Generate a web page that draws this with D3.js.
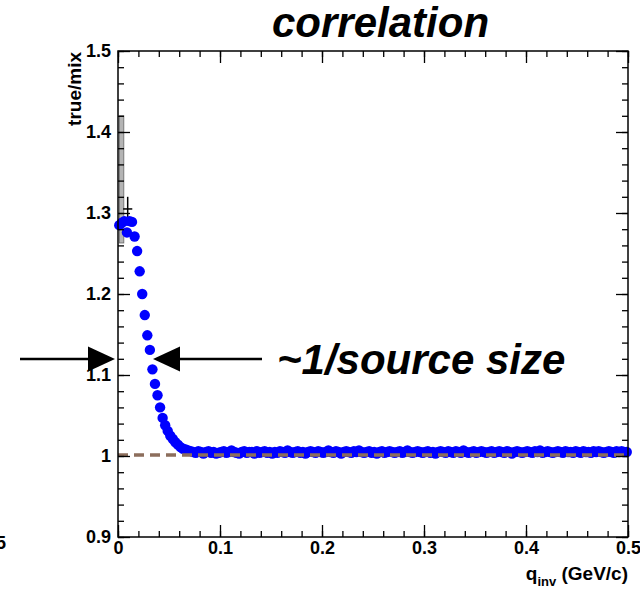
<!DOCTYPE html>
<html>
<head>
<meta charset="utf-8">
<script src="https://cdn.jsdelivr.net/npm/d3@7"></script>
<style>
body { margin: 0; background: #fff; }
svg { display: block; }
text { font-family: "Liberation Sans", Arial, sans-serif; font-weight: bold; }
</style>
</head>
<body>
<svg id="chart" width="640" height="590"></svg>
<script>
// correlation function true/mix vs q_inv, 200 bins of 0.0025 GeV/c
var binWidth = 0.0025;
var ratio = [
    1.285, 1.288, 1.290, 1.276, 1.290, 1.289, 1.271, 1.253, 1.228, 1.200,
    1.174, 1.149, 1.131, 1.107, 1.089, 1.075, 1.060, 1.047, 1.038, 1.031,
    1.025, 1.021, 1.017, 1.014, 1.011, 1.009, 1.008, 1.007, 1.006, 1.005,
    1.004, 1.006, 1.005, 1.003, 1.005, 1.006, 1.004, 1.005, 1.003, 1.004,
    1.005, 1.006, 1.004, 1.005, 1.007, 1.005, 1.004, 1.003, 1.005, 1.006,
    1.004, 1.005, 1.005, 1.003, 1.006, 1.004, 1.005, 1.006, 1.004, 1.005,
    1.003, 1.005, 1.004, 1.006, 1.005, 1.004, 1.007, 1.005, 1.004, 1.005,
    1.006, 1.004, 1.005, 1.003, 1.005, 1.006, 1.005, 1.004, 1.006, 1.005,
    1.004, 1.005, 1.007, 1.005, 1.004, 1.006, 1.005, 1.003, 1.005, 1.006,
    1.005, 1.004, 1.006, 1.005, 1.007, 1.005, 1.004, 1.005, 1.006, 1.004,
    1.005, 1.003, 1.005, 1.006, 1.004, 1.005, 1.006, 1.005, 1.004, 1.005,
    1.006, 1.004, 1.005, 1.007, 1.005, 1.004, 1.005, 1.006, 1.005, 1.004,
    1.005, 1.006, 1.004, 1.005, 1.003, 1.005, 1.006, 1.005, 1.004, 1.006,
    1.005, 1.004, 1.006, 1.005, 1.004, 1.007, 1.005, 1.004, 1.005, 1.006,
    1.004, 1.005, 1.006, 1.005, 1.004, 1.005, 1.006, 1.004, 1.005, 1.006,
    1.005, 1.004, 1.006, 1.005, 1.003, 1.005, 1.006, 1.005, 1.004, 1.005,
    1.006, 1.005, 1.004, 1.006, 1.005, 1.007, 1.004, 1.005, 1.006, 1.005,
    1.004, 1.005, 1.006, 1.005, 1.004, 1.006, 1.005, 1.005, 1.004, 1.006,
    1.005, 1.004, 1.006, 1.005, 1.005, 1.004, 1.006, 1.005, 1.006, 1.005,
    1.004, 1.005, 1.006, 1.005, 1.004, 1.006, 1.005, 1.006, 1.005, 1.005
];

// big error bar on the lowest bins
var errBin = [1];
var errLow = [1.263];
var errHigh = [1.42];

// coarse black histogram point under the peak
var histQ = [0.0095];
var histVal = [1.305];
var histHalfWidth = [0.0045];
var histErr = [0.015];

var baseline = 1.0;

var xTicks = [0, 0.1, 0.2, 0.3, 0.4, 0.5];
var xTickLabels = ["0", "0.1", "0.2", "0.3", "0.4", "0.5"];
var yTicks = [0.9, 1.0, 1.1, 1.2, 1.3, 1.4, 1.5];
var yTickLabels = ["0.9", "1", "1.1", "1.2", "1.3", "1.4", "1.5"];
var xMinor = d3.range(0, 0.5001, 0.02);
var yMinor = d3.range(0.9, 1.5001, 0.02);

var fLeft = 118, fRight = 628, fTop = 51, fBottom = 537;

var svg = d3.select("#chart");

var x = d3.scaleLinear().domain([0, 0.5]).range([fLeft, fRight]);
var y = d3.scaleLinear().domain([0.9, 1.5]).range([fBottom, fTop]);

// error bars
svg.append("g")
    .selectAll("rect")
    .data(errBin)
    .enter().append("rect")
    .attr("x", function(d) { return x((d + 0.5) * binWidth) - 2.5; })
    .attr("width", 4.5)
    .attr("y", function(d, i) { return y(errHigh[i]); })
    .attr("height", function(d, i) { return y(errLow[i]) - y(errHigh[i]); })
    .style("fill", "#b4b4b4")
    .style("stroke", "#666")
    .style("stroke-width", 0.8);

var hist = svg.append("g").style("stroke", "#000").style("stroke-width", 1.5);
histQ.forEach(function(q, i) {
    hist.append("line")
	.attr("x1", x(q - histHalfWidth[i])).attr("x2", x(q + histHalfWidth[i]))
	.attr("y1", y(histVal[i])).attr("y2", y(histVal[i]));
    hist.append("line")
	.attr("x1", x(q)).attr("x2", x(q))
	.attr("y1", y(histVal[i] - histErr[i])).attr("y2", y(histVal[i] + histErr[i]));
});

// points
svg.append("g")
    .selectAll("circle")
    .data(ratio)
    .enter().append("circle")
    .attr("cx", function(d, i) { return x((i + 0.5) * binWidth); })
    .attr("cy", function(d) { return y(d); })
    .attr("r", 5.2)
    .style("fill", "#0000ff");

// reference line at 1
svg.append("line")
    .attr("x1", x(0)).attr("x2", x(0.5))
    .attr("y1", y(baseline) - 1).attr("y2", y(baseline) - 1)
    .style("stroke", "#8c6e5c")
    .style("stroke-width", 3.5)
    .style("stroke-dasharray", "10,6");

// axes, ticks pointing inward
function styleAxis(g) {
    g.select(".domain").remove();
    g.selectAll("line").style("stroke", "#000").style("stroke-width", 1.3);
    g.selectAll("text").style("font-size", "18px").style("fill", "#000");
}

svg.append("g").attr("transform", "translate(0," + fBottom + ")")
    .call(d3.axisBottom(x).tickValues(xMinor).tickSize(-6).tickFormat(""))
    .call(styleAxis);
svg.append("g").attr("transform", "translate(0," + fBottom + ")")
    .call(d3.axisBottom(x).tickValues(xTicks).tickSize(-12).tickPadding(4)
	  .tickFormat(function(d, i) { return xTickLabels[i]; }))
    .call(styleAxis);
svg.append("g").attr("transform", "translate(0," + fTop + ")")
    .call(d3.axisTop(x).tickValues(xMinor).tickSize(-6).tickFormat(""))
    .call(styleAxis);
svg.append("g").attr("transform", "translate(0," + fTop + ")")
    .call(d3.axisTop(x).tickValues(xTicks).tickSize(-12).tickFormat(""))
    .call(styleAxis);

svg.append("g").attr("transform", "translate(" + fLeft + ",0)")
    .call(d3.axisLeft(y).tickValues(yMinor).tickSize(-6).tickFormat(""))
    .call(styleAxis);
svg.append("g").attr("transform", "translate(" + fLeft + ",0)")
    .call(d3.axisLeft(y).tickValues(yTicks).tickSize(-12).tickPadding(7)
	  .tickFormat(function(d, i) { return yTickLabels[i]; }))
    .call(styleAxis);
svg.append("g").attr("transform", "translate(" + fRight + ",0)")
    .call(d3.axisRight(y).tickValues(yMinor).tickSize(-6).tickFormat(""))
    .call(styleAxis);
svg.append("g").attr("transform", "translate(" + fRight + ",0)")
    .call(d3.axisRight(y).tickValues(yTicks).tickSize(-12).tickFormat(""))
    .call(styleAxis);

// frame
svg.append("rect")
    .attr("x", fLeft).attr("y", fTop)
    .attr("width", fRight - fLeft).attr("height", fBottom - fTop)
    .style("fill", "none").style("stroke", "#000").style("stroke-width", 1.5);

// titles
svg.append("text")
    .attr("x", 272).attr("y", 37)
    .style("font-size", "42px").style("font-style", "italic")
    .text("correlation");

svg.append("text")
    .attr("transform", "translate(81,52) rotate(-90)")
    .attr("text-anchor", "end")
    .style("font-size", "19px")
    .text("true/mix");

var xt = svg.append("text")
    .attr("x", fRight).attr("y", 580)
    .attr("text-anchor", "end")
    .style("font-size", "19px");
xt.append("tspan").text("q");
xt.append("tspan").attr("dy", 6).style("font-size", "13px").text("inv");
xt.append("tspan").attr("dy", -6).text(" (GeV/c)");

// clipped label from the neighbouring panel
svg.append("text")
    .attr("x", 6).attr("y", 549)
    .attr("text-anchor", "end")
    .style("font-size", "18px")
    .text("5");

// source size arrows
var arrowY = 359;
var arrows = svg.append("g");
arrows.append("line").attr("x1", 20).attr("x2", 92).attr("y1", arrowY).attr("y2", arrowY)
    .style("stroke", "#000").style("stroke-width", 2.5);
arrows.append("path")
    .attr("d", "M115," + arrowY + " L88," + (arrowY - 12.5) + " L88," + (arrowY + 12.5) + " Z")
    .style("fill", "#000");
arrows.append("line").attr("x1", 176).attr("x2", 262).attr("y1", arrowY).attr("y2", arrowY)
    .style("stroke", "#000").style("stroke-width", 2.5);
arrows.append("path")
    .attr("d", "M153," + arrowY + " L180," + (arrowY - 12.5) + " L180," + (arrowY + 12.5) + " Z")
    .style("fill", "#000");

svg.append("text")
    .attr("x", 277).attr("y", 374)
    .style("font-size", "42px").style("font-style", "italic")
    .text("~1/source size");
</script>
</body>
</html>
